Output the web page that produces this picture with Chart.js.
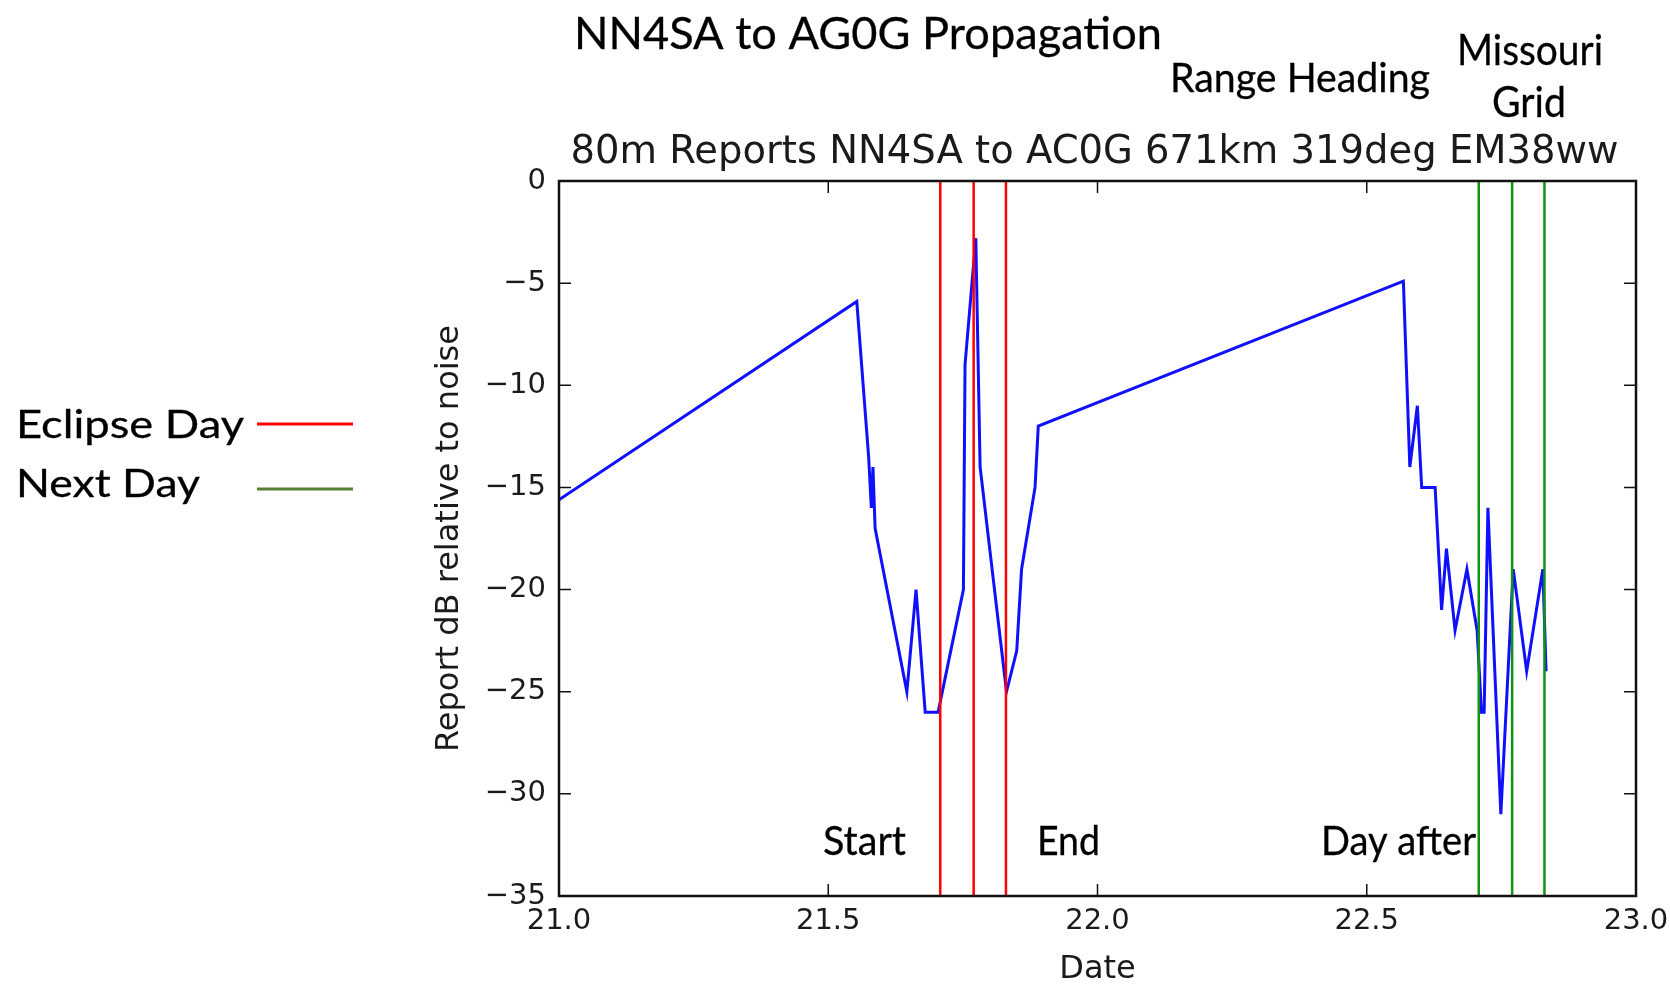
<!DOCTYPE html>
<html>
<head>
<meta charset="utf-8">
<script src="https://cdn.jsdelivr.net/npm/chart.js@4.4.1/dist/chart.umd.min.js"></script>
<style>
  body { margin: 0; background: #fff; }
  canvas { display: block; }
</style>
</head>
<body>
<canvas id="propChart" width="1670" height="986"></canvas>
<script>
// report times (day of month, UTC fraction) and SNR
const days = [21.0, 21.553, 21.575, 21.580, 21.583, 21.587, 21.646, 21.663, 21.680, 21.704,
  21.751, 21.754, 21.774, 21.782, 21.831, 21.850, 21.859, 21.884, 21.890, 22.568,
  22.580, 22.594, 22.602, 22.627, 22.639, 22.648, 22.664, 22.686, 22.705, 22.713,
  22.718, 22.725, 22.749, 22.772, 22.797, 22.827, 22.833];
const reportDb = [-15.6, -5.9, -13.5, -16, -14, -17, -25, -20, -26, -26,
  -20, -9, -2.8, -14, -25, -23, -19, -15, -12, -4.9,
  -14, -11, -15, -15, -21, -18, -22, -19, -22, -26,
  -26, -16, -31, -19, -24, -19, -24];

// eclipse start / max / end, and the same times the day after
const eclipseDay = [21.708, 21.770, 21.830];
const nextDay = [22.708, 22.770, 22.830];

const xTicks = { min: 21, max: 23, step: 0.5 };
const yTicks = { min: -35, max: 0, step: 5 };

const tickFont = 'DejaVu Sans';
const noteFont = 'Lato';

function vLine(t, color) {
  return {
    data: [{ x: t, y: yTicks.min }, { x: t, y: yTicks.max }],
    borderColor: color,
    borderWidth: 2.5,
    pointRadius: 0,
    order: 1
  };
}

const datasets = [{
  label: 'Report',
  data: days.map((d, i) => ({ x: d, y: reportDb[i] })),
  borderColor: '#1010ff',
  borderWidth: 3,
  pointRadius: 0,
  tension: 0,
  order: 2
}];
eclipseDay.forEach(t => datasets.push(vLine(t, '#ff0000')));
nextDay.forEach(t => datasets.push(vLine(t, '#119311')));

// squeeze text into the box it had in the picture
function fitText(ctx, text, left, right, baseline, size, family) {
  ctx.save();
  ctx.font = size + 'px "' + family + '"';
  const w = ctx.measureText(text).width;
  ctx.translate(left, baseline);
  ctx.scale((right - left) / w, 1);
  ctx.textAlign = 'left';
  ctx.textBaseline = 'alphabetic';
  ctx.fillStyle = '#000';
  ctx.strokeStyle = '#000';
  ctx.lineWidth = 0.3;
  ctx.fillText(text, 0, 0);
  ctx.strokeText(text, 0, 0);
  ctx.restore();
}

const framePlugin = {
  id: 'frame',
  afterDraw(chart) {
    const ctx = chart.ctx;
    const a = chart.chartArea;
    const xs = chart.scales.x, ys = chart.scales.y;

    // inward ticks on all four sides (matplotlib style)
    ctx.save();
    ctx.strokeStyle = '#111';
    ctx.lineWidth = 1.5;
    ctx.beginPath();
    xs.ticks.forEach(t => {
      const px = xs.getPixelForValue(t.value);
      ctx.moveTo(px, a.bottom); ctx.lineTo(px, a.bottom - 12);
      ctx.moveTo(px, a.top); ctx.lineTo(px, a.top + 12);
    });
    ys.ticks.forEach(t => {
      const py = ys.getPixelForValue(t.value);
      ctx.moveTo(a.left, py); ctx.lineTo(a.left + 12, py);
      ctx.moveTo(a.right, py); ctx.lineTo(a.right - 12, py);
    });
    ctx.stroke();
    ctx.lineWidth = 2.5;
    ctx.strokeRect(a.left, a.top, a.right - a.left, a.bottom - a.top);

    // matplotlib title
    ctx.font = '38.5px "' + tickFont + '"';
    ctx.fillStyle = '#1a1a1a';
    ctx.textAlign = 'center';
    ctx.textBaseline = 'alphabetic';
    ctx.fillText('80m Reports NN4SA to AC0G 671km 319deg EM38ww', (a.left + a.right) / 2 - 3, 163);
    ctx.restore();

    // slide annotations
    fitText(ctx, 'NN4SA to AG0G Propagation', 574, 1162, 49, 44.7, noteFont);
    fitText(ctx, 'Range Heading', 1170, 1430, 92, 41, noteFont);
    fitText(ctx, 'Missouri', 1457, 1603, 65, 43, noteFont);
    fitText(ctx, 'Grid', 1492, 1566, 117, 43, noteFont);
    fitText(ctx, 'Eclipse Day', 16, 244, 438, 39, noteFont);
    fitText(ctx, 'Next Day', 16, 200, 497, 39, noteFont);
    fitText(ctx, 'Start', 823, 906, 855, 40, noteFont);
    fitText(ctx, 'End', 1037, 1100, 855, 40, noteFont);
    fitText(ctx, 'Day after', 1321, 1476, 855, 40, noteFont);

    // hand-drawn legend lines
    ctx.save();
    ctx.lineWidth = 3;
    ctx.strokeStyle = '#ff0000';
    ctx.beginPath(); ctx.moveTo(257, 424); ctx.lineTo(353, 424); ctx.stroke();
    ctx.strokeStyle = '#548235';
    ctx.beginPath(); ctx.moveTo(257, 489); ctx.lineTo(353, 489); ctx.stroke();
    ctx.restore();
  }
};

const ctx = document.getElementById('propChart').getContext('2d');
const chart = new Chart(ctx, {
  type: 'line',
  data: { datasets: datasets },
  options: {
    responsive: false,
    animation: false,
    layout: { padding: { left: 434, top: 181, right: 34, bottom: 0 } },
    plugins: {
      legend: { display: false },
      title: { display: false },
      tooltip: { enabled: false }
    },
    scales: {
      x: {
        type: 'linear',
        min: xTicks.min,
        max: xTicks.max,
        ticks: {
          stepSize: xTicks.step,
          callback: v => v.toFixed(1),
          font: { family: tickFont, size: 29 },
          color: '#1a1a1a',
          padding: 8,
          maxRotation: 0,
          autoSkip: false
        },
        grid: { display: false, drawTicks: false },
        border: { display: false },
        title: {
          display: true,
          text: 'Date',
          font: { family: tickFont, size: 32, lineHeight: 1 },
          color: '#1a1a1a',
          padding: 0
        },
        afterFit: s => { s.height = 90; s.paddingLeft = 0; s.paddingRight = 0; }
      },
      y: {
        min: yTicks.min,
        max: yTicks.max,
        ticks: {
          stepSize: yTicks.step,
          callback: v => (v < 0 ? '\u2212' : '') + Math.abs(v),
          font: { family: tickFont, size: 29 },
          color: '#1a1a1a',
          padding: 13
        },
        grid: { display: false, drawTicks: false },
        border: { display: false },
        title: {
          display: true,
          text: 'Report dB relative to noise',
          font: { family: tickFont, size: 32, lineHeight: 1 },
          color: '#1a1a1a',
          padding: 0
        },
        afterFit: s => { s.width = 125; s.paddingTop = 0; s.paddingBottom = 0; }
      }
    }
  },
  plugins: [framePlugin]
});
</script>
</body>
</html>
